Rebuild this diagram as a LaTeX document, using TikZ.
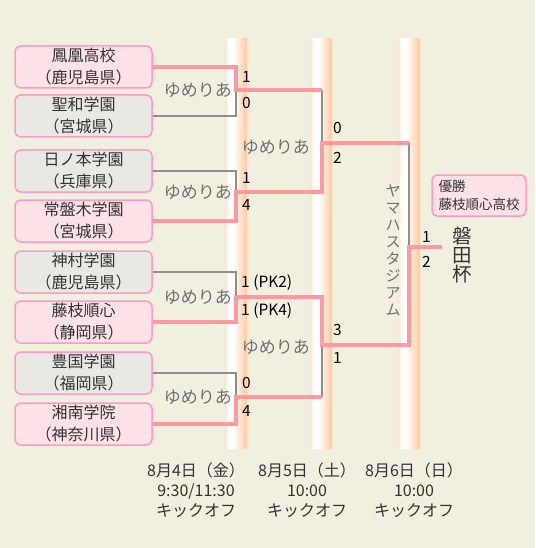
\documentclass[tikz,border=0pt]{standalone}
\usepackage{fontspec}
\setmainfont{Noto Sans CJK JP}
\usetikzlibrary{positioning}
\definecolor{bgcol}{HTML}{F0EFE0}
\definecolor{boxline}{HTML}{FF99C8}
\definecolor{winfill}{HTML}{FCE1E6}
\definecolor{losefill}{HTML}{EAE8E3}
\definecolor{winred}{HTML}{FF999E}
\definecolor{losegray}{HTML}{8E8E8E}
\definecolor{barL}{HTML}{FBE4D2}
\definecolor{barR}{HTML}{FFC99C}
\definecolor{txt}{HTML}{333333}
\definecolor{venuegray}{HTML}{707070}
\pgfdeclarehorizontalshading{barshade}{100bp}{color(0bp)=(barL); color(25bp)=(barL); color(33bp)=(white); color(43bp)=(white); color(75bp)=(barR); color(100bp)=(barR)}

\begin{document}
\begin{tikzpicture}
  [x=1pt,y=-1pt,
   team/.style={rectangle,rounded corners=6pt,draw=boxline,line width=1.5pt,minimum width=137pt,minimum height=42pt,inner sep=0pt,align=center,text=txt,font=\fontsize{16}{22}\selectfont},
   winteam/.style={team,fill=winfill},
   loseteam/.style={team,fill=losefill},
   winline/.style={draw=winred,line width=4pt},
   loseline/.style={draw=losegray,line width=1.5pt},
   venue/.style={text=venuegray,inner sep=0pt,font=\fontsize{17}{17}\selectfont},
   score/.style={anchor=west,inner sep=0pt,text=black,font=\fontsize{15.5}{15.5}\selectfont},
   kickoff/.style={align=center,inner sep=0pt,text=txt,font=\fontsize{16}{20}\selectfont}]
\useasboundingbox (0,0) rectangle (535,548);
  \fill[bgcol] (0,0) rectangle (535,548);

  % day columns
  \foreach \bx in {225,310,398}
    \shade[shading=barshade] (\bx,39) rectangle (\bx+22,448);

  % teams
  \node[winteam]  (b1) at (83.5,67)  {鳳凰高校\\（鹿児島県）};
  \node[loseteam] (b2) at (83.5,116) {聖和学園\\（宮城県）};
  \node[loseteam] (b3) at (83.5,171) {日ノ本学園\\（兵庫県）};
  \node[winteam]  (b4) at (83.5,221) {常盤木学園\\（宮城県）};
  \node[loseteam] (b5) at (83.5,272) {神村学園\\（鹿児島県）};
  \node[winteam]  (b6) at (83.5,322) {藤枝順心\\（静岡県）};
  \node[loseteam] (b7) at (83.5,373) {豊国学園\\（福岡県）};
  \node[winteam]  (b8) at (83.5,424) {湘南学院\\（神奈川県）};

  % bracket joints
  \coordinate (r1a) at (236,90);
  \coordinate (r1b) at (236,192);
  \coordinate (r1c) at (236,297);
  \coordinate (r1d) at (236,397);
  \coordinate (r2a) at (322,143);
  \coordinate (r2b) at (322,345);
  \coordinate (r3) at (409,247);
  \coordinate (champ) at (442,247);

  \foreach \from/\to in {b2/r1a, b3/r1b, b5/r1c, b7/r1d}
    \draw[loseline] (\from.east) -| (\to);
  \draw[loseline] (r2a |- r1a) -- (r2a);
  \draw[loseline] (r2b |- r1d) -- (r2b);
  \draw[loseline] (r3 |- r2a) -- (r3);

  \draw[winline] (b1.east) -| (r1a) -- (r2a |- r1a);
  \draw[winline] (b4.east) -| (r1b) -- (r2a |- r1b) -- (r2a) -- (r3 |- r2a);
  \draw[winline] (b6.east) -| (r1c) -- (r2b |- r1c) -- (r2b) -- (r3 |- r2b) -- (r3) -- (champ);
  \draw[winline] (b8.east) -| (r1d) -- (r2b |- r1d);

  % venues
  \node[venue, left=4pt of r1a] (v1) {ゆめりあ};
  \node[venue, left=4pt of r1b] (v2) {ゆめりあ};
  \node[venue, left=4pt of r1c] (v3) {ゆめりあ};
  \node[venue, left=4pt of r1d] (v4) {ゆめりあ};
  \node[venue, left=12pt of r2a, yshift=-4pt] (v5) {ゆめりあ};
  \node[venue, left=12pt of r2b, yshift=-2pt] (v6) {ゆめりあ};
  \node[venue, align=center, font=\fontsize{15}{17}\selectfont] (stadium) at (393,250) {ヤ\\マ\\ハ\\ス\\タ\\ジ\\ア\\ム};

  % scores
  \node[score] (s1) at ([shift={(6,-13)}]r1a) {1};
  \node[score] (s2) at ([shift={(6,13)}]r1a) {0};
  \node[score] (s3) at ([shift={(6,-14)}]r1b) {1};
  \node[score] (s4) at ([shift={(6,13)}]r1b) {4};
  \node[score] (s5) at ([shift={(5,-14)}]r1c) {1 (PK2)};
  \node[score] (s6) at ([shift={(5,14)}]r1c) {1 (PK4)};
  \node[score] (s7) at ([shift={(6,-14)}]r1d) {0};
  \node[score] (s8) at ([shift={(6,14)}]r1d) {4};
  \node[score] (s9) at ([shift={(11,-15)}]r2a) {0};
  \node[score] (s10) at ([shift={(11,15)}]r2a) {2};
  \node[score] (s11) at ([shift={(11,-15)}]r2b) {3};
  \node[score] (s12) at ([shift={(11,13)}]r2b) {1};
  \node[score] (s13) at ([shift={(13,-10)}]r3) {1};
  \node[score] (s14) at ([shift={(13,15)}]r3) {2};

  % winner
  \node[winteam, minimum width=94pt, minimum height=41pt, rounded corners=5pt, align=left, font=\fontsize{13.5}{18}\selectfont] (winner) at (479,195.5) {優勝\\藤枝順心高校};
  \node[align=center, inner sep=0pt, text=txt, font=\fontsize{19.5}{19}\selectfont] (cup) at (462,255) {磐\\田\\杯};

  % kick-off times
  \node[kickoff] (d1) at (196,490) {8月4日（金）\\9:30/11:30\\キックオフ};
  \node[kickoff] (d2) at (307,490) {8月5日（土）\\10:00\\キックオフ};
  \node[kickoff] (d3) at (414,490) {8月6日（日）\\10:00\\キックオフ};
\end{tikzpicture}
\end{document}
